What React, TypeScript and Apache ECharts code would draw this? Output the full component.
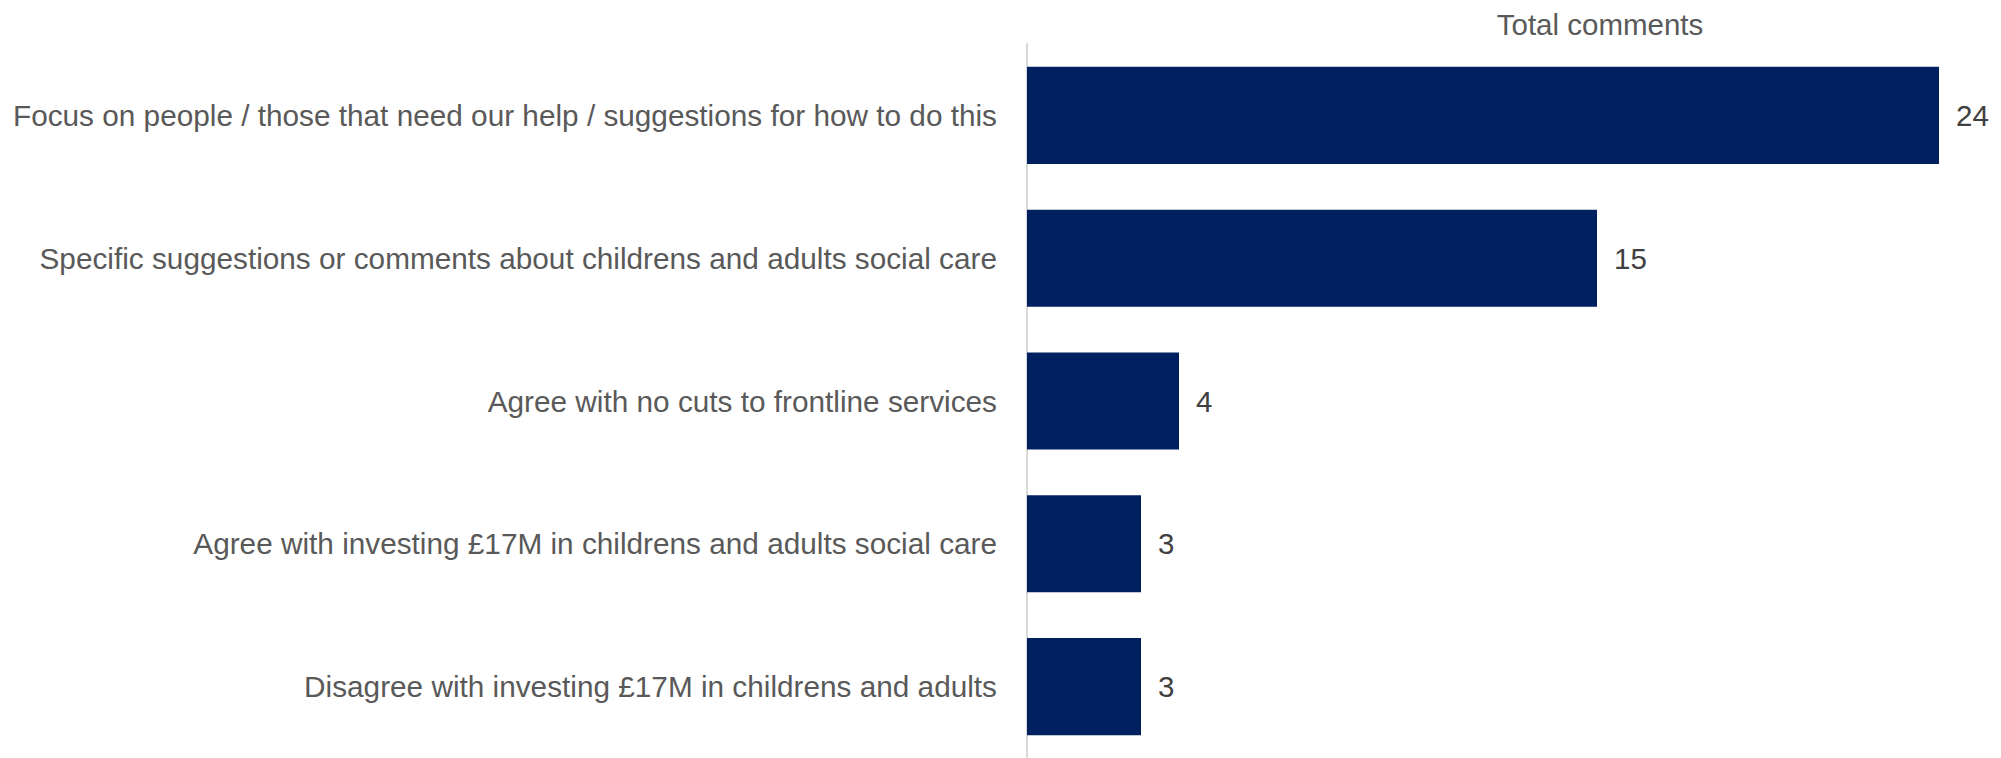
import React, { useEffect, useRef } from "react";
import * as echarts from "echarts";

const categories = [
  "Focus on people / those that need our help / suggestions for how to do this",
  "Specific suggestions or comments about childrens and adults social care",
  "Agree with no cuts to frontline services",
  "Agree with investing £17M in childrens and adults social care",
  "Disagree with investing £17M in childrens and adults",
];
const totals = [24, 15, 4, 3, 3];
const seriesName = "Total comments";

const FONT = "'Liberation Sans', sans-serif";
const FS = 29.75;

export default function App() {
  const ref = useRef<HTMLDivElement>(null);
  useEffect(() => {
    document.body.style.margin = "0";
    const chart = echarts.init(ref.current!, null, { renderer: "svg" });
    chart.setOption({
      animation: false,
      backgroundColor: "#ffffff",
      title: {
        text: seriesName,
        left: 1595,
        top: 4,
        textAlign: "center",
        textStyle: { fontFamily: FONT, fontSize: 29.5, fontWeight: "normal", color: "#595959" },
      },
      grid: { left: 1027, top: 44, width: 950, height: 719, containLabel: false },
      xAxis: { type: "value", min: 0, max: 25, show: false },
      yAxis: {
        type: "category",
        data: categories,
        inverse: true,
        axisTick: { show: false },
        axisLine: { show: true, lineStyle: { color: "#d9d9d9", width: 2 } },
        axisLabel: { margin: 30, fontFamily: FONT, fontSize: FS, color: "#595959" },
      },
      series: [
        {
          name: seriesName,
          type: "bar",
          data: totals,
          barCategoryGap: "32%",
          itemStyle: { color: "#002060" },
          label: {
            show: true,
            position: "right",
            distance: 17,
            fontFamily: FONT,
            fontSize: 29.5,
            color: "#404040",
          },
        },
      ],
    });
    return () => chart.dispose();
  }, []);
  return <div ref={ref} style={{ width: 2001, height: 758 }} />;
}
